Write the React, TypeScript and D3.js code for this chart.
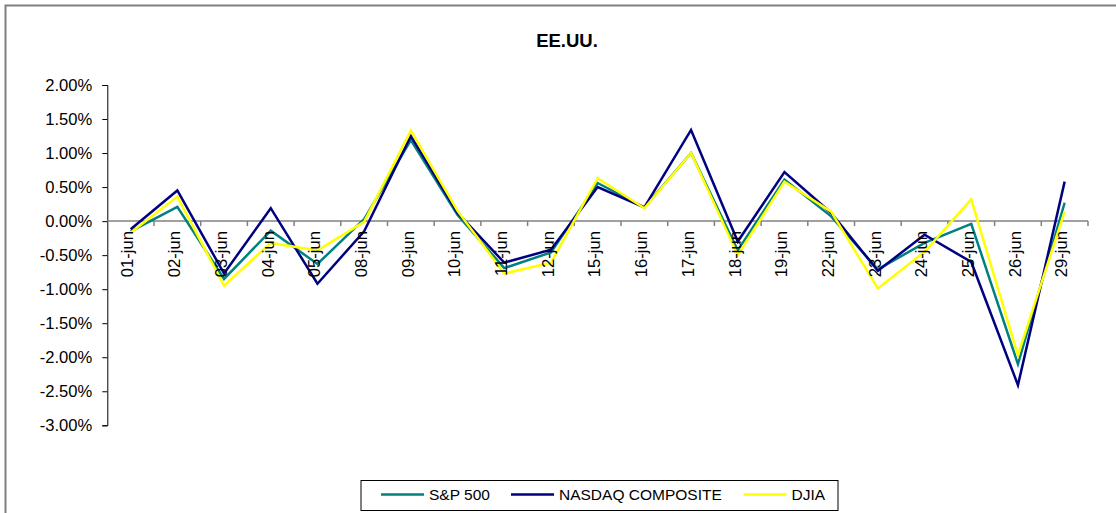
import React, { useEffect, useRef } from 'react';
import * as d3 from 'd3';

const dates = ['01-jun', '02-jun', '03-jun', '04-jun', '05-jun', '08-jun', '09-jun', '10-jun', '11-jun', '12-jun', '15-jun', '16-jun', '17-jun', '18-jun', '19-jun', '22-jun', '23-jun', '24-jun', '25-jun', '26-jun', '29-jun'];

// daily change in percent
const sp500 = [-0.15, 0.21, -0.85, -0.14, -0.63, 0.03, 1.19, 0.09, -0.69, -0.46, 0.56, 0.2, 1.0, -0.43, 0.61, 0.07, -0.71, -0.32, -0.04, -2.1, 0.27];
const nasdaq = [-0.12, 0.45, -0.77, 0.19, -0.92, -0.15, 1.25, 0.12, -0.61, -0.42, 0.5, 0.2, 1.34, -0.3, 0.72, 0.12, -0.73, -0.2, -0.6, -2.41, 0.58];
const djia = [-0.17, 0.36, -0.95, -0.32, -0.43, -0.01, 1.33, 0.15, -0.77, -0.61, 0.63, 0.19, 1.0, -0.5, 0.58, 0.14, -0.99, -0.45, 0.32, -1.97, 0.14];

const yTicks = [2, 1.5, 1, 0.5, 0, -0.5, -1, -1.5, -2, -2.5, -3];

const seriesNames = ['S&P 500', 'NASDAQ COMPOSITE', 'DJIA'];
const seriesColors = ['#008080', '#000080', '#ffff00'];

const W = 1116;
const H = 513;
const FONT = 'Arial, "Liberation Sans", sans-serif';

// plain hyphen for negatives, like the original
const pct = d3.formatLocale({ decimal: '.', thousands: ',', grouping: [3], currency: ['', ''], minus: '-' }).format('.2f');

function Chart() {
  const ref = useRef<SVGSVGElement>(null);

  useEffect(() => {
    const svg = d3.select(ref.current);
    svg.selectAll('*').remove();

    // frame (only top and left edges visible)
    svg.append('path')
      .attr('d', 'M5.5,' + H + 'V5.5H' + W)
      .attr('fill', 'none')
      .attr('stroke', '#808080')
      .attr('stroke-width', 2);

    svg.append('text')
      .attr('x', 567)
      .attr('y', 46.5)
      .attr('text-anchor', 'middle')
      .attr('font-family', FONT)
      .attr('font-weight', 'bold')
      .attr('font-size', 18.5)
      .text('EE.UU.');

    const x = d3.scaleBand().domain(dates).range([107.3, 1088]).padding(0);
    const y = d3.scaleLinear().domain([-3, 2]).range([425.3, 85]);

    // y axis
    const yAxis = svg.append('g')
      .attr('transform', 'translate(107.3,0)')
      .call(d3.axisLeft(y).tickValues(yTicks).tickSize(5).tickPadding(10).tickFormat((d) => pct(d as number) + '%'));
    yAxis.select('.domain').attr('stroke', '#000').attr('stroke-width', 1);
    yAxis.selectAll('.tick line').attr('stroke', '#000');
    yAxis.selectAll('text')
      .attr('font-family', FONT)
      .attr('font-size', 16.6)
      .attr('fill', '#000');

    // x axis at zero
    const x0 = y(0);
    svg.append('line')
      .attr('x1', 107.3)
      .attr('x2', 1088)
      .attr('y1', x0)
      .attr('y2', x0)
      .attr('stroke', '#808080')
      .attr('stroke-width', 1.5);
    const bounds = dates.map((d) => x(d) as number).concat([1088]).slice(1);
    svg.append('g')
      .selectAll('line')
      .data(bounds)
      .join('line')
      .attr('x1', (d) => d)
      .attr('x2', (d) => d)
      .attr('y1', x0)
      .attr('y2', x0 + 5)
      .attr('stroke', '#808080')
      .attr('stroke-width', 1.5);

    const cx = (d: string) => (x(d) as number) + x.bandwidth() / 2;

    const lineGen = d3.line<number>()
      .x((_, i) => cx(dates[i]))
      .y((v) => y(v));

    [sp500, nasdaq, djia].forEach((vals, k) => {
      svg.append('path')
        .datum(vals)
        .attr('fill', 'none')
        .attr('stroke', seriesColors[k])
        .attr('stroke-width', 2.5)
        .attr('stroke-linejoin', 'miter')
        .attr('d', lineGen);
    });

    // category labels, drawn over the lines
    svg.append('g')
      .selectAll('text')
      .data(dates)
      .join('text')
      .attr('transform', (d) => 'translate(' + (cx(d) - 3) + ',' + (x0 + 10) + ') rotate(-90)')
      .attr('text-anchor', 'end')
      .attr('dy', '0.35em')
      .attr('font-family', FONT)
      .attr('font-size', 16.6)
      .text((d) => d);

    // legend
    const lg = svg.append('g');
    lg.append('rect')
      .attr('x', 361)
      .attr('y', 480.5)
      .attr('width', 477)
      .attr('height', 30)
      .attr('fill', '#fff')
      .attr('stroke', '#000')
      .attr('stroke-width', 1);
    const lineStarts = [381, 511, 743.5];
    seriesNames.forEach((name, k) => {
      lg.append('line')
        .attr('x1', lineStarts[k])
        .attr('x2', lineStarts[k] + 43)
        .attr('y1', 494.5)
        .attr('y2', 494.5)
        .attr('stroke', seriesColors[k])
        .attr('stroke-width', 2.5);
      lg.append('text')
        .attr('x', lineStarts[k] + 48)
        .attr('y', 500)
        .attr('font-family', FONT)
        .attr('font-size', 15.5)
        .text(name);
    });
  }, []);

  return <svg ref={ref} width={W} height={H} style={{ display: 'block' }} />;
}

export default function App() {
  return (
    <div style={{ position: 'absolute', left: 0, top: 0, width: W, height: H, background: '#fff', overflow: 'hidden' }}>
      <Chart />
    </div>
  );
}
